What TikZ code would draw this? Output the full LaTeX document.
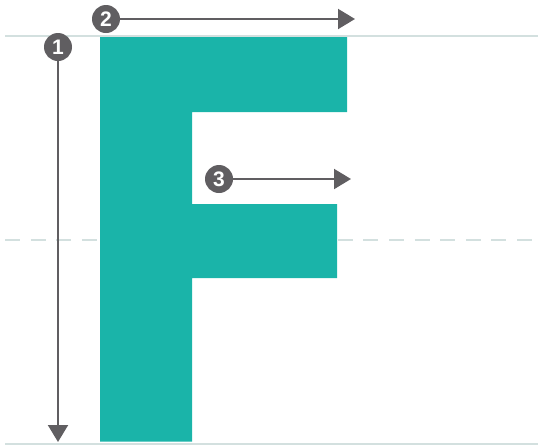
\documentclass[tikz,border=0pt]{standalone}
\usepackage{fontspec}
\setsansfont{Liberation Sans}
\usetikzlibrary{arrows.meta}
\definecolor{glyph}{HTML}{1AB4A9}
\definecolor{guide}{HTML}{D3E0DF}
\definecolor{marker}{HTML}{605E61}
\begin{document}
\begin{tikzpicture}[x=1pt,y=-1pt,
                    guideline/.style={draw=guide,line width=2pt},
                    pointer/.style={draw=marker,line width=2pt,-{Triangle[length=17pt,width=20pt]}},
                    badge/.style={circle,fill=marker,minimum size=28pt,inner sep=0pt,
                                  text=white,font=\sffamily\bfseries\fontsize{21}{21}\selectfont}]
 \useasboundingbox (0,0) rectangle (538,445);
 % guide lines
 \draw[guideline] (5,35.5)--(538,35.5);
 \draw[guideline] (5,443.5)--(538,443.5);
 \draw[guideline,line width=2.6pt,dash pattern=on 15pt off 10.6pt] (5,240)--(532,240);
 % the letter
 \fill[glyph] (100,37)--(347,37)--(347,112)--(192,112)--(192,204)--(337,204)
   --(337,278)--(192,278)--(192,441.5)--(100,441.5)--cycle;
 % markers
 \node[badge] (n1) at (58,47) {1};
 \node[badge] (n2) at (106,19) {2};
 \node[badge] (n3) at (219,179) {3};
 \coordinate (e1) at (58,442);
 \coordinate (e2) at (355,19);
 \coordinate (e3) at (351,179);
 \draw[pointer] (n1)--(e1);
 \draw[pointer] (n2)--(e2);
 \draw[pointer] (n3)--(e3);
\end{tikzpicture}
\end{document}
